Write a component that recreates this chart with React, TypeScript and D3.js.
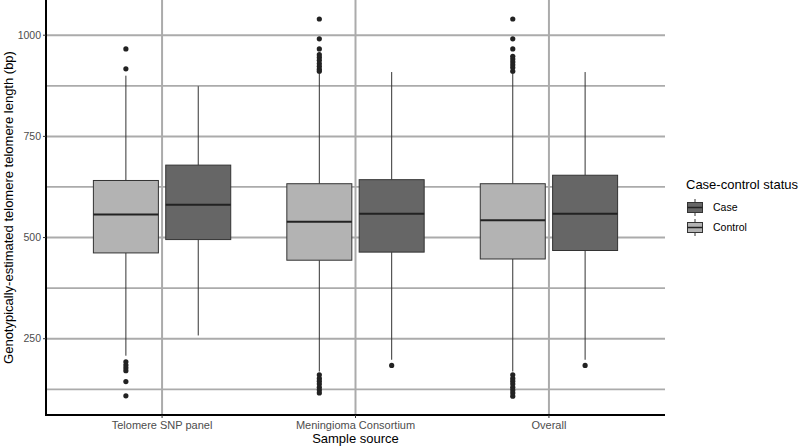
import React from "react";
import * as d3 from "d3";

const categories = ["Telomere SNP panel", "Meningioma Consortium", "Overall"];
const groups = ["Control", "Case"];
const legendOrder = ["Case", "Control"];
const yTicks = [250, 500, 750, 1000];
const yMinor = [125, 375, 625, 875];

// Box statistics per category (Control / Case)
const controlLower = [208, 169, 169];
const controlQ1 = [462, 444, 447];
const controlMedian = [557, 539, 543];
const controlQ3 = [641, 633, 633];
const controlUpper = [900, 907, 909];
const controlOutliers = [
  [966, 917, 193, 185, 178, 171, 144, 109],
  [1040, 991, 966, 952, 945, 938, 930, 923, 916, 911, 161, 152, 145, 138, 130, 123, 116],
  [1040, 991, 966, 948, 941, 934, 927, 920, 911, 161, 152, 145, 138, 130, 123, 116, 108],
];
const caseLower = [258, 198, 198];
const caseQ1 = [495, 464, 468];
const caseMedian = [581, 559, 559];
const caseQ3 = [679, 643, 654];
const caseUpper = [874, 909, 909];
const caseOutliers = [[], [184], [184]];

const fills: Record<string, string> = { Control: "#b3b3b3", Case: "#666666" };

const W = 800;
const H = 448;
const left = 46;
const right = 665;
const top = 0;
const bottom = 415;

export default function App() {
  const x = d3.scalePoint<string>().domain(categories).range([left, right]).padding(0.6);
  const step = x.step();
  const y = d3.scaleLinear().domain([61.5, 1087]).range([bottom, top]);
  const boxW = step * 0.336;
  const offset = step * 0.187;

  const stats = (g: string, i: number) =>
    g === "Control"
      ? { lo: controlLower[i], q1: controlQ1[i], med: controlMedian[i], q3: controlQ3[i], hi: controlUpper[i], out: controlOutliers[i] }
      : { lo: caseLower[i], q1: caseQ1[i], med: caseMedian[i], q3: caseQ3[i], hi: caseUpper[i], out: caseOutliers[i] };

  const grid = "#ababab";
  return (
    <div style={{ position: "absolute", left: 0, top: 0 }}>
      <svg width={W} height={H} style={{ display: "block", fontFamily: "Liberation Sans, Arial, sans-serif" }}>
        <rect width={W} height={H} fill="#fff" />
        {/* grid */}
        {yMinor.map((v) => (
          <line key={"mn" + v} x1={left} x2={right} y1={y(v)} y2={y(v)} stroke={grid} strokeWidth={1.8} />
        ))}
        {yTicks.map((v) => (
          <line key={"mj" + v} x1={left} x2={right} y1={y(v)} y2={y(v)} stroke={grid} strokeWidth={2} />
        ))}
        {categories.map((c) => (
          <line key={"vg" + c} x1={x(c)} x2={x(c)} y1={top} y2={bottom} stroke={grid} strokeWidth={2} />
        ))}
        {/* boxes */}
        {categories.map((c, i) =>
          groups.map((g, gi) => {
            const s = stats(g, i);
            const cx = (x(c) as number) + (gi === 0 ? -offset : offset);
            return (
              <g key={c + g}>
                <line x1={cx} x2={cx} y1={y(s.hi)} y2={y(s.q3)} stroke="#333" strokeWidth={1} />
                <line x1={cx} x2={cx} y1={y(s.q1)} y2={y(s.lo)} stroke="#333" strokeWidth={1} />
                <rect x={cx - boxW / 2} y={y(s.q3)} width={boxW} height={y(s.q1) - y(s.q3)} fill={fills[g]} stroke="#333" strokeWidth={1} />
                <line x1={cx - boxW / 2} x2={cx + boxW / 2} y1={y(s.med)} y2={y(s.med)} stroke="#222" strokeWidth={2} />
                {s.out.map((o, k) => (
                  <circle key={k} cx={cx} cy={y(o)} r={2.6} fill="#222" />
                ))}
              </g>
            );
          })
        )}
        {/* axes */}
        <line x1={left} x2={left} y1={top} y2={bottom + 1} stroke="#000" strokeWidth={2} />
        <line x1={left - 1} x2={right} y1={bottom} y2={bottom} stroke="#000" strokeWidth={2} />
        {yTicks.map((v) => (
          <g key={"yt" + v}>
            <line x1={left - 3} x2={left} y1={y(v)} y2={y(v)} stroke="#333" strokeWidth={1} />
            <text x={left - 5} y={y(v)} dy="0.35em" textAnchor="end" fontSize={10.5} fill="#4d4d4d">
              {v}
            </text>
          </g>
        ))}
        {categories.map((c) => (
          <g key={"xt" + c}>
            <line x1={x(c)} x2={x(c)} y1={bottom} y2={bottom + 3} stroke="#333" strokeWidth={1} />
            <text x={x(c)} y={bottom + 14} textAnchor="middle" fontSize={11} fill="#4d4d4d">
              {c}
            </text>
          </g>
        ))}
        <text x={(left + right) / 2} y={443} textAnchor="middle" fontSize={13} fill="#000">
          Sample source
        </text>
        <text transform={`translate(13, ${(top + bottom) / 2}) rotate(-90)`} textAnchor="middle" fontSize={13} fill="#000">
          Genotypically-estimated telomere telomere length (bp)
        </text>
        {/* legend */}
        <text x={686} y={189} fontSize={13} fill="#000">
          Case-control status
        </text>
        {legendOrder.map((g, i) => {
          const ky = 199 + i * 20;
          const kx = 687;
          return (
            <g key={"lg" + g}>
              <line x1={kx + 8} x2={kx + 8} y1={ky} y2={ky + 17} stroke="#333" strokeWidth={1} />
              <rect x={kx + 0.5} y={ky + 3.5} width={15} height={10} fill={fills[g]} stroke="#333" strokeWidth={1} />
              <line x1={kx + 0.5} x2={kx + 15.5} y1={ky + 8.5} y2={ky + 8.5} stroke="#222" strokeWidth={1.5} />
              <text x={713} y={ky + 8.5} dy="0.35em" fontSize={10.5} fill="#000">
                {g}
              </text>
            </g>
          );
        })}
      </svg>
    </div>
  );
}
